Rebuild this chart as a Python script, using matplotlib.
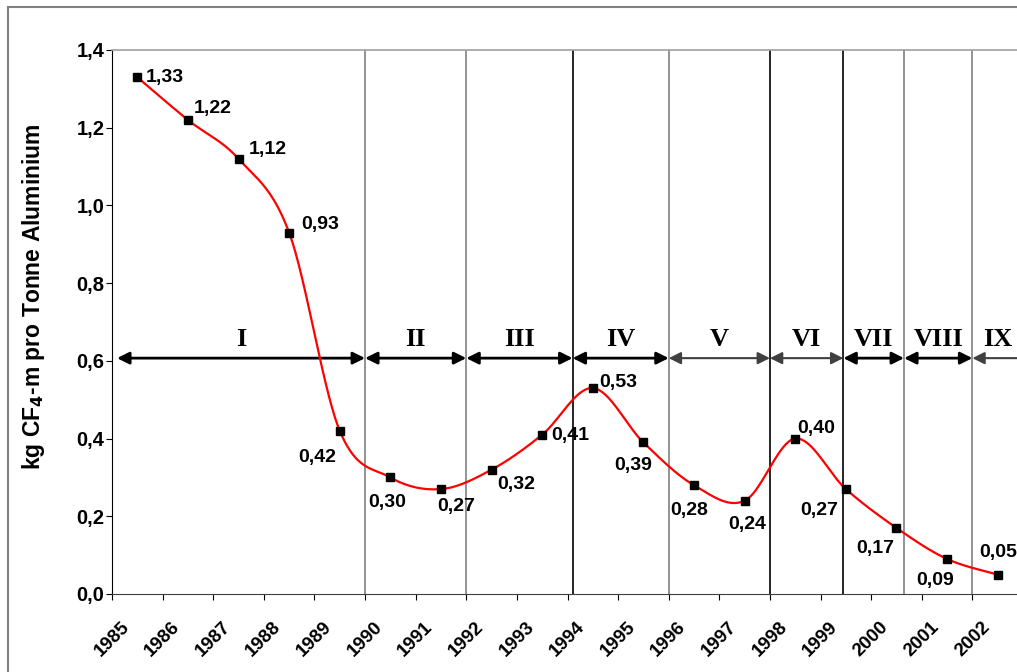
import matplotlib
matplotlib.use('Agg')
import matplotlib.pyplot as plt
import numpy as np
from matplotlib.patches import Rectangle
from matplotlib.ticker import FuncFormatter

# Data: CF4 emissions per tonne of aluminium, plotted mid-year
years = [1985.5, 1986.5, 1987.5, 1988.5, 1989.5, 1990.5, 1991.5, 1992.5, 1993.5,
         1994.5, 1995.5, 1996.5, 1997.5, 1998.5, 1999.5, 2000.5, 2001.5, 2002.5]
values = [1.33, 1.22, 1.12, 0.93, 0.42, 0.30, 0.27, 0.32, 0.41,
          0.53, 0.39, 0.28, 0.24, 0.40, 0.27, 0.17, 0.09, 0.05]
tick_years = list(range(1985, 2003))

# Periods I..IX
period_names = ['I', 'II', 'III', 'IV', 'V', 'VI', 'VII', 'VIII', 'IX']
period_starts = [1985.1, 1990, 1992, 1994.1, 1996, 1998, 1999.45, 2000.65, 2002]
period_ends = [1990, 1992, 1994.1, 1996, 1998, 1999.45, 2000.65, 2002, 2003.2]

plt.rcParams['font.family'] = ['Liberation Sans', 'DejaVu Sans']
plt.rcParams['font.weight'] = 'bold'


def excel_smooth(x, y, n=40):
    # Bezier smoothing the way spreadsheet "smoothed line" charts do it
    x = np.asarray(x, float)
    y = np.asarray(y, float)
    px = np.concatenate([[x[0]], x, [x[-1]]])
    py = np.concatenate([[y[0]], y, [y[-1]]])
    t = np.linspace(0, 1, n)
    sx, sy = [], []
    for i in range(len(x) - 1):
        p0 = np.array([px[i], py[i]])
        p1 = np.array([px[i + 1], py[i + 1]])
        p2 = np.array([px[i + 2], py[i + 2]])
        p3 = np.array([px[i + 3], py[i + 3]])
        c1 = p1 + (p2 - p0) / 6
        c2 = p2 - (p3 - p1) / 6
        b = ((1 - t) ** 3)[:, None] * p1 + (3 * (1 - t) ** 2 * t)[:, None] * c1 \
            + (3 * (1 - t) * t ** 2)[:, None] * c2 + (t ** 3)[:, None] * p2
        sx.extend(b[:, 0])
        sy.extend(b[:, 1])
    return np.array(sx), np.array(sy)


fig = plt.figure(figsize=(10.17, 6.72), dpi=100)
ax = fig.add_axes([112 / 1017, 78 / 672, 911 / 1017, 544 / 672])
ax.set_xlim(1985, 2003)
ax.set_ylim(0, 1.4)

# outer chart frame
fig.add_artist(Rectangle((8 / 1017, -0.1), 1.2, 1.1 - 7 / 672, transform=fig.transFigure,
                         fill=False, edgecolor='#808080', lw=1.5))

ax.spines['right'].set_visible(False)
ax.spines['top'].set_color('#a0a0a0')
ax.spines['top'].set_linewidth(1.2)
ax.spines['left'].set_color('black')
ax.spines['bottom'].set_color('#404040')

# period separators
sep_colors = ['#808080', '#808080', 'black', '#808080', 'black', 'black', '#808080', '#808080']
ax.vlines(period_ends[:-1], 0, 1.4, colors=sep_colors, lw=1.2)

# period arrows and labels
arrow_colors = ['black', 'black', 'black', 'black', '#404040', '#404040', 'black', 'black', '#404040']
for name, s, e, c in zip(period_names, period_starts, period_ends, arrow_colors):
    ax.annotate('', xy=(e, 0.607), xytext=(s, 0.607),
                arrowprops=dict(arrowstyle='<|-|>', color=c, lw=2 if c == 'black' else 1.5,
                                mutation_scale=18, shrinkA=0, shrinkB=0), annotation_clip=False)
    ax.text((s + min(e, 2003)) / 2, 0.656, name, ha='center', va='center',
            fontsize=19, fontweight='bold', family='Liberation Serif')

# smoothed line + markers
sx, sy = excel_smooth(years, values)
ax.plot(sx, sy, color='red', lw=1.6, zorder=4)
ax.plot(years, values, 's', color='black', ms=6, zorder=5)

# value labels (offsets in pixels)
offsets = [(28, 0), (25, 11), (29, 9), (31, 8), (-23, -27), (-3, -25), (15, -17), (25, -15),
           (28, -1), (25, 6), (-10, -23), (-5, -25), (3, -24), (21, 10), (-27, -21),
           (-21, -21), (-12, -21), (0, 22)]
for x, v, (dx, dy) in zip(years, values, offsets):
    ax.annotate(f'{v:.2f}'.replace('.', ','), (x, v), xytext=(dx, dy),
                textcoords='offset pixels', ha='center', va='center',
                fontsize=14, fontweight='bold', zorder=6)

ax.set_xticks(tick_years)
ax.set_xticklabels([str(y) for y in tick_years], rotation=45, ha='center')
ax.set_yticks(np.arange(0, 1.41, 0.2))
ax.yaxis.set_major_formatter(FuncFormatter(lambda v, p: f'{v:.1f}'.replace('.', ',')))
ax.tick_params(axis='x', direction='out', length=4.5, pad=13, labelsize=13.5)
ax.tick_params(axis='y', direction='out', length=4.5, pad=1, labelsize=14.5)

ax.set_ylabel('kg CF$_\\mathbf{4}$-m pro Tonne Aluminium', fontsize=16.5, fontweight='bold')
ax.yaxis.set_label_coords(-0.0714, 0.546)

fig.savefig('out.png', dpi=100)
